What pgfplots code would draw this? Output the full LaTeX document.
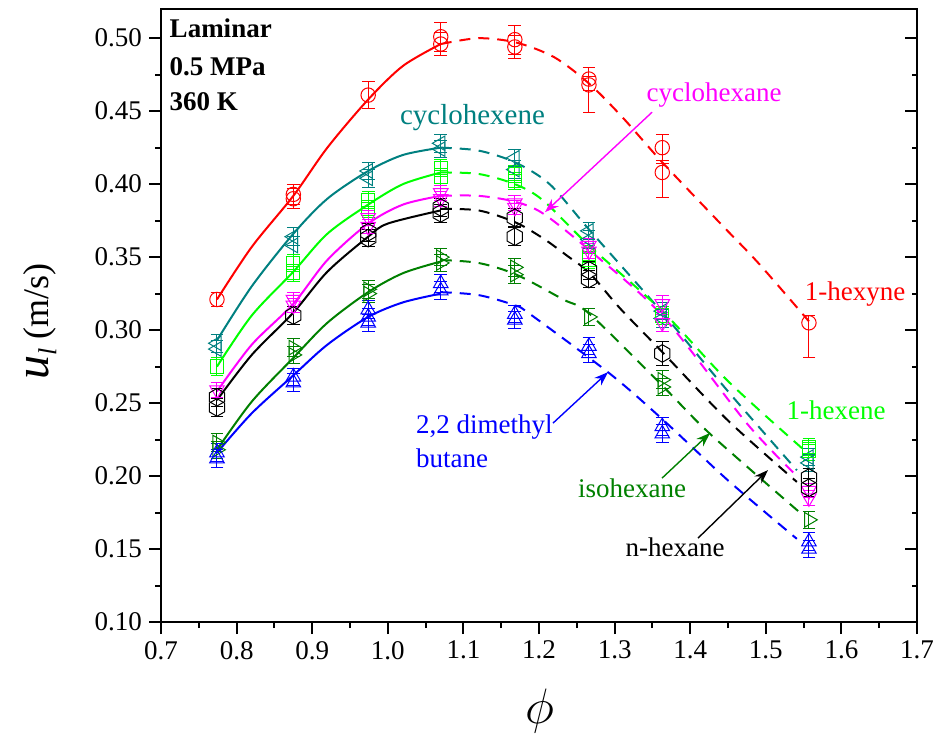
\documentclass[border=0pt]{standalone}
\usepackage{fontspec}
\setmainfont{Liberation Serif}
\usepackage{pgfplots}
\pgfplotsset{compat=1.18}
\usetikzlibrary{arrows.meta}
\definecolor{chyne}{HTML}{FF0000}
\definecolor{chexene}{HTML}{008080}
\definecolor{conehex}{HTML}{00FF00}
\definecolor{cchex}{HTML}{FF00FF}
\definecolor{cnhex}{HTML}{000000}
\definecolor{ciso}{HTML}{008000}
\definecolor{cdmb}{HTML}{0000FF}

\pgfdeclareplotmark{hexagon}{%
  \pgfpathmoveto{\pgfpointpolar{90}{\pgfplotmarksize}}%
  \pgfpathlineto{\pgfpointpolar{150}{\pgfplotmarksize}}%
  \pgfpathlineto{\pgfpointpolar{210}{\pgfplotmarksize}}%
  \pgfpathlineto{\pgfpointpolar{270}{\pgfplotmarksize}}%
  \pgfpathlineto{\pgfpointpolar{330}{\pgfplotmarksize}}%
  \pgfpathlineto{\pgfpointpolar{30}{\pgfplotmarksize}}%
  \pgfpathclose\pgfusepathqstroke}

\tikzset{mk/.style={solid, line width=0.5pt, fill=none}}
\pgfplotsset{
  fit/.style={line width=1pt, smooth, no marks},
  ext/.style={line width=1pt, smooth, no marks, dash pattern=on 5.5pt off 4pt},
  meas/.style={only marks,
    error bars/.cd, y dir=both, y explicit,
    error bar style={line width=0.5pt, solid},
    error mark options={rotate=90, mark size=3.2pt, line width=0.5pt}},
}
\newcommand{\lab}{\fontsize{13.5}{16}\selectfont}

\begin{document}
\begin{tikzpicture}
\begin{axis}[
  scale only axis, width=378pt, height=306.5pt,
  xmin=0.7, xmax=1.7, ymin=0.1, ymax=0.52,
  xtick={0.7,0.8,0.9,1.0,1.1,1.2,1.3,1.4,1.5,1.6,1.7},
  ytick={0.10,0.15,0.20,0.25,0.30,0.35,0.40,0.45,0.50},
  minor x tick num=1, minor y tick num=1,
  xtick pos=left, ytick pos=left, tick align=outside,
  major tick length=6pt, minor tick length=3pt,
  axis line style={line width=1pt},
  every tick/.style={line width=1pt, black},
  every tick label/.append style={font=\lab},
  xticklabel style={/pgf/number format/.cd, fixed, fixed zerofill, precision=1, assume math mode=true},
  yticklabel style={/pgf/number format/.cd, fixed, fixed zerofill, precision=2, assume math mode=true},
  xlabel={\fontsize{24}{28}\selectfont$\phi$},
  xlabel style={at={(axis description cs:0.501,-0.145)}, anchor=center},
  ylabel={\fontsize{24}{28}\selectfont\textit{u}\raisebox{-0.35ex}{\fontsize{13}{13}\selectfont\textit{l}}\fontsize{18}{22}\selectfont\ (m/s)},
  ylabel style={at={(axis description cs:-0.16,0.49)}, anchor=center},
]
% fitted curves, solid (measured range) and dashed (extrapolated)
\addplot[chyne, fit] coordinates {(0.774,0.321) (0.82,0.357) (0.875,0.392) (0.92,0.425) (0.974,0.458) (1.02,0.481) (1.07,0.496)};
\addplot[chyne, ext] coordinates {(1.07,0.496) (1.12,0.500) (1.17,0.497) (1.22,0.487) (1.266,0.469) (1.31,0.446) (1.363,0.415) (1.44,0.373) (1.49,0.346) (1.557,0.306)};
\addplot[chexene, fit] coordinates {(0.774,0.293) (0.82,0.330) (0.875,0.366) (0.92,0.390) (0.974,0.409) (1.02,0.420) (1.07,0.425)};
\addplot[chexene, ext] coordinates {(1.07,0.425) (1.12,0.423) (1.168,0.415) (1.214,0.400) (1.266,0.369) (1.363,0.312) (1.45,0.258) (1.541,0.204)};
\addplot[conehex, fit] coordinates {(0.774,0.275) (0.82,0.310) (0.875,0.340) (0.92,0.366) (0.974,0.386) (1.02,0.400) (1.07,0.408)};
\addplot[conehex, ext] coordinates {(1.07,0.408) (1.12,0.407) (1.168,0.400) (1.205,0.389) (1.266,0.358) (1.363,0.313) (1.45,0.265) (1.548,0.219)};
\addplot[cchex, fit] coordinates {(0.774,0.258) (0.82,0.290) (0.875,0.318) (0.92,0.348) (0.974,0.373) (1.02,0.386) (1.07,0.392)};
\addplot[cchex, ext] coordinates {(1.07,0.392) (1.12,0.392) (1.168,0.388) (1.205,0.380) (1.266,0.355) (1.363,0.310) (1.475,0.236) (1.541,0.200)};
\addplot[cnhex, fit] coordinates {(0.774,0.252) (0.82,0.283) (0.875,0.312) (0.92,0.340) (0.974,0.364) (1.0,0.373) (1.07,0.382)};
\addplot[cnhex, ext] coordinates {(1.07,0.383) (1.12,0.382) (1.168,0.374) (1.205,0.363) (1.237,0.351) (1.267,0.339) (1.307,0.315) (1.363,0.285) (1.45,0.238) (1.541,0.196)};
\addplot[ciso, fit] coordinates {(0.774,0.218) (0.82,0.251) (0.875,0.281) (0.92,0.305) (0.974,0.326) (1.02,0.339) (1.07,0.347)};
\addplot[ciso, ext] coordinates {(1.07,0.348) (1.12,0.346) (1.17,0.338) (1.232,0.321) (1.267,0.311) (1.363,0.262) (1.426,0.229) (1.545,0.175)};
\addplot[cdmb, fit] coordinates {(0.774,0.216) (0.82,0.243) (0.875,0.269) (0.92,0.290) (0.974,0.309) (1.02,0.319) (1.07,0.325)};
\addplot[cdmb, ext] coordinates {(1.07,0.326) (1.12,0.324) (1.168,0.317) (1.188,0.311) (1.294,0.270) (1.363,0.239) (1.45,0.197) (1.541,0.157)};

% measurements
\addplot[chyne, mark=o, mark size=3.6pt, mark options={mk}, meas] coordinates {
  (0.774,0.321) +- (0,0.005)
  (0.875,0.393) +- (0,0.007) (0.875,0.390) +- (0,0.007)
  (0.974,0.461) +- (0,0.009)
  (1.070,0.501) +- (0,0.010) (1.070,0.496) +- (0,0.008)
  (1.168,0.499) +- (0,0.010) (1.168,0.494) +- (0,0.008)
  (1.266,0.472) +- (0,0.008) (1.266,0.468) += (0,0.006) -= (0,0.019)
  (1.363,0.425) +- (0,0.009) (1.363,0.408) += (0,0.006) -= (0,0.017)
  (1.557,0.305) += (0,0.005) -= (0,0.024)
};
\addplot[chexene, mark=triangle, mark size=4.2pt, mark options={mk, rotate=90}, meas] coordinates {
  (0.774,0.291) +- (0,0.006) (0.774,0.287) +- (0,0.006)
  (0.875,0.364) +- (0,0.006) (0.875,0.358) +- (0,0.006)
  (0.974,0.409) +- (0,0.006) (0.974,0.404) +- (0,0.006)
  (1.070,0.428) +- (0,0.006) (1.070,0.424) +- (0,0.006)
  (1.168,0.418) +- (0,0.006) (1.168,0.410) +- (0,0.006)
  (1.266,0.368) +- (0,0.006) (1.266,0.362) +- (0,0.006)
  (1.363,0.313) +- (0,0.006) (1.363,0.308) +- (0,0.006)
  (1.557,0.213) +- (0,0.006) (1.557,0.209) +- (0,0.006)
};
\addplot[conehex, mark=square, mark size=3.3pt, mark options={mk}, meas] coordinates {
  (0.774,0.275) +- (0,0.006)
  (0.875,0.346) +- (0,0.006) (0.875,0.339) +- (0,0.006)
  (0.974,0.389) +- (0,0.006) (0.974,0.383) +- (0,0.006)
  (1.070,0.411) +- (0,0.006) (1.070,0.405) +- (0,0.006)
  (1.168,0.407) +- (0,0.006) (1.168,0.402) +- (0,0.006)
  (1.266,0.352) +- (0,0.006) (1.266,0.348) +- (0,0.006)
  (1.363,0.310) +- (0,0.006)
  (1.557,0.220) +- (0,0.006) (1.557,0.217) +- (0,0.006)
};
\addplot[cchex, mark=triangle, mark size=4.2pt, mark options={mk, rotate=180}, meas] coordinates {
  (0.774,0.259) +- (0,0.005)
  (0.875,0.321) +- (0,0.005) (0.875,0.317) +- (0,0.005)
  (0.974,0.377) +- (0,0.005) (0.974,0.371) +- (0,0.005)
  (1.070,0.394) +- (0,0.005) (1.070,0.390) +- (0,0.005)
  (1.168,0.387) +- (0,0.005) (1.168,0.384) +- (0,0.005)
  (1.266,0.358) +- (0,0.005) (1.266,0.354) +- (0,0.005)
  (1.363,0.318) +- (0,0.006) (1.363,0.305) +- (0,0.006)
  (1.557,0.190) +- (0,0.005) (1.557,0.185) +- (0,0.005)
};
\addplot[cnhex, mark=hexagon, mark size=4.4pt, mark options={mk}, meas] coordinates {
  (0.774,0.254) +- (0,0.006) (0.774,0.247) +- (0,0.006)
  (0.875,0.310) +- (0,0.006)
  (0.974,0.367) +- (0,0.006) (0.974,0.363) +- (0,0.006)
  (1.070,0.384) +- (0,0.006) (1.070,0.380) +- (0,0.006)
  (1.168,0.377) +- (0,0.006) (1.168,0.364) +- (0,0.006)
  (1.266,0.341) +- (0,0.006) (1.266,0.335) +- (0,0.006)
  (1.363,0.284) +- (0,0.008)
  (1.557,0.199) +- (0,0.006) (1.557,0.192) +- (0,0.006)
};
\addplot[ciso, mark=triangle, mark size=4.2pt, mark options={mk, rotate=-90}, meas] coordinates {
  (0.774,0.223) +- (0,0.006) (0.774,0.218) +- (0,0.006)
  (0.875,0.288) +- (0,0.006) (0.875,0.283) +- (0,0.006)
  (0.974,0.328) +- (0,0.006) (0.974,0.325) +- (0,0.006)
  (1.070,0.350) +- (0,0.006) (1.070,0.346) +- (0,0.006)
  (1.168,0.343) +- (0,0.006) (1.168,0.338) +- (0,0.006)
  (1.266,0.309) +- (0,0.006)
  (1.363,0.266) +- (0,0.006) (1.363,0.261) +- (0,0.006)
  (1.557,0.170) +- (0,0.006)
};
\addplot[cdmb, mark=triangle, mark size=4.2pt, mark options={mk}, meas] coordinates {
  (0.774,0.216) +- (0,0.006) (0.774,0.212) +- (0,0.006)
  (0.875,0.268) +- (0,0.006) (0.875,0.264) +- (0,0.006)
  (0.974,0.314) +- (0,0.006) (0.974,0.309) +- (0,0.006) (0.974,0.305) +- (0,0.006)
  (1.070,0.332) +- (0,0.006) (1.070,0.327) +- (0,0.006)
  (1.168,0.311) +- (0,0.006) (1.168,0.307) +- (0,0.006)
  (1.266,0.289) +- (0,0.006) (1.266,0.284) +- (0,0.006)
  (1.363,0.234) +- (0,0.006) (1.363,0.229) +- (0,0.006)
  (1.557,0.155) +- (0,0.006) (1.557,0.150) +- (0,0.006)
};

% annotations
\node[anchor=west, inner sep=0pt, font=\fontsize{13.5}{16}\selectfont\bfseries] at (axis cs:0.711,0.5068) {Laminar};
\node[anchor=west, inner sep=0pt, font=\fontsize{13.5}{16}\selectfont\bfseries] at (axis cs:0.711,0.4808) {0.5 MPa};
\node[anchor=west, inner sep=0pt, font=\fontsize{13.5}{16}\selectfont\bfseries] at (axis cs:0.711,0.4568) {360 K};
\node[chexene, font=\fontsize{14.5}{17}\selectfont] at (axis cs:1.112,0.4459) {cyclohexene};
\node[cchex, font=\lab] at (axis cs:1.4315,0.4610) {cyclohexane};
\draw[cchex, line width=0.7pt, -{Stealth[length=7pt,width=5pt]}] (axis cs:1.3495,0.4493) -- (axis cs:1.2079,0.3808);
\node[chyne, font=\lab] at (axis cs:1.618,0.3247) {1-hexyne};
\node[conehex, font=\lab] at (axis cs:1.593,0.2452) {1-hexene};
\node[ciso, font=\lab] at (axis cs:1.323,0.1918) {isohexane};
\draw[ciso, line width=0.7pt, -{Stealth[length=7pt,width=5pt]}] (axis cs:1.3627,0.1986) -- (axis cs:1.4262,0.2295);
\node[cnhex, font=\lab] at (axis cs:1.380,0.1514) {n-hexane};
\draw[cnhex, line width=0.7pt, -{Stealth[length=7pt,width=5pt]}] (axis cs:1.4103,0.1575) -- (axis cs:1.5029,0.2041);
\node[cdmb, anchor=west, font=\lab] at (axis cs:1.028,0.2336) {2,2 dimethyl};
\node[cdmb, anchor=west, font=\lab] at (axis cs:1.028,0.2123) {butane};
\draw[cdmb, line width=0.7pt, -{Stealth[length=7pt,width=5pt]}] (axis cs:1.2185,0.2363) -- (axis cs:1.2913,0.2712);

\coordinate (bbA) at (rel axis cs:-0.213,-0.189);
\coordinate (bbB) at (rel axis cs:1.0317,1.0147);
\end{axis}
% right-hand axis: inward ticks, no labels
\begin{axis}[
  scale only axis, width=378pt, height=306.5pt,
  xmin=0.7, xmax=1.7, ymin=0.1, ymax=0.52,
  hide x axis, axis y line*=right,
  ytick={0.10,0.15,0.20,0.25,0.30,0.35,0.40,0.45,0.50},
  minor y tick num=1, yticklabels={}, tick align=inside,
  major tick length=6pt, minor tick length=2.5pt,
  axis line style={line width=1pt, -},
  every tick/.style={line width=1pt, black},
]
\end{axis}
\pgfresetboundingbox
\path (bbA) rectangle (bbB);
\end{tikzpicture}
\end{document}
